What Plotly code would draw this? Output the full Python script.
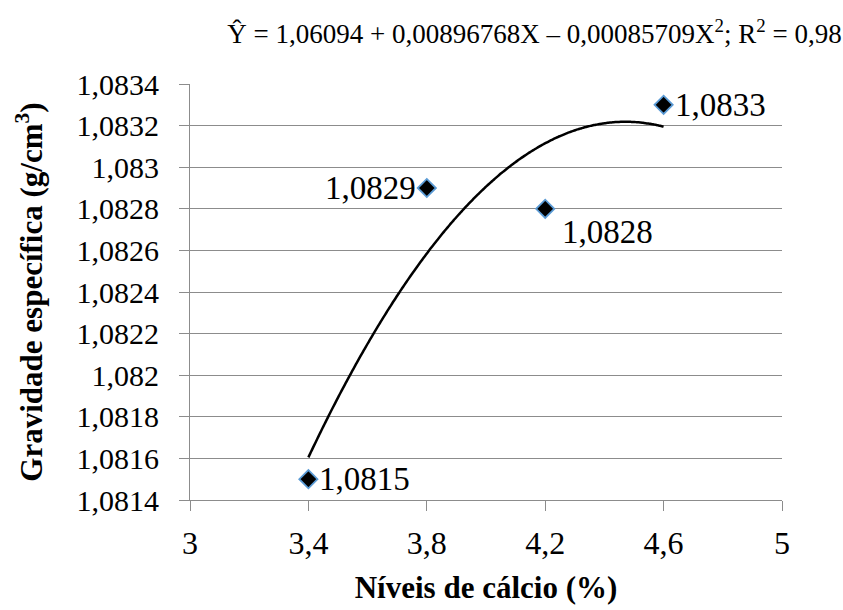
import numpy as np
import plotly.graph_objects as go

# Calcium levels (%) and specific gravity (g/cm3)
calcio = [3.4, 3.8, 4.2, 4.6]
gravidade = [1.0815, 1.0829, 1.0828, 1.0833]

y_ticks = [1.0814, 1.0816, 1.0818, 1.082, 1.0822, 1.0824, 1.0826, 1.0828, 1.083, 1.0832, 1.0834]
y_ticktext = ["1,0814", "1,0816", "1,0818", "1,082", "1,0822", "1,0824", "1,0826", "1,0828", "1,083", "1,0832", "1,0834"]
x_ticks = [3, 3.4, 3.8, 4.2, 4.6, 5]
x_ticktext = ["3", "3,4", "3,8", "4,2", "4,6", "5"]

# Quadratic trendline fitted to the observed points
coef = np.polyfit(calcio, gravidade, 2)
xs = np.linspace(min(calcio), max(calcio), 200)
ys = np.polyval(coef, xs)

font = "Liberation Serif"
axis_grey = "#8c8c8c"

fig = go.Figure()
fig.add_trace(go.Scatter(x=xs, y=ys, mode="lines",
                         line=dict(color="black", width=2.5, shape="spline"),
                         hoverinfo="skip", showlegend=False))
fig.add_trace(go.Scatter(x=calcio, y=gravidade, mode="markers",
                         marker=dict(symbol="diamond", size=14, color="black",
                                     line=dict(color="#5b9bd5", width=1.8)),
                         showlegend=False))

# Data labels beside each point
offsets = [(9, 0, "left"), (-9, 0, "right"), (15, 23, "left"), (9, 0, "left")]
for x, y, (dx, dy, anc) in zip(calcio, gravidade, offsets):
    fig.add_annotation(x=x, y=y, text=f"{y:.4f}".replace(".", ","), showarrow=False,
                       xanchor=anc, yanchor="middle", xshift=dx, yshift=-dy,
                       font=dict(family=font, size=33, color="black"))

fig.update_layout(
    width=843, height=610,
    margin=dict(l=190, r=61, t=84, b=106),
    paper_bgcolor="white", plot_bgcolor="white",
    font=dict(family=font, color="black"),
    title=dict(text="Ŷ = 1,06094 + 0,00896768X – 0,00085709X<sup>2</sup>; R<sup>2</sup> = 0,98",
               x=0.634, xanchor="center", y=0.96, yanchor="top",
               font=dict(family=font, size=27, color="black")),
    xaxis=dict(range=[3, 5], tickvals=x_ticks, ticktext=x_ticktext,
               showgrid=False, zeroline=False, showline=True, linecolor=axis_grey, linewidth=1.2,
               ticks="outside", ticklen=10, tickcolor=axis_grey, tickwidth=1.2,
               ticklabelstandoff=4,
               tickfont=dict(family=font, size=32, color="black"),
               title=dict(text="<b>Níveis de cálcio (%)</b>", standoff=16,
                          font=dict(family=font, size=31, color="black"))),
    yaxis=dict(range=[1.0814, 1.0834], tickvals=y_ticks, ticktext=y_ticktext,
               showgrid=True, gridcolor=axis_grey, gridwidth=1.2, zeroline=False,
               showline=True, linecolor=axis_grey, linewidth=1.2,
               ticks="outside", ticklen=10, tickcolor=axis_grey, tickwidth=1.2,
               ticklabelstandoff=14,
               tickfont=dict(family=font, size=30, color="black"),
               title=dict(text="<b>Gravidade específica (g/cm<sup>3</sup>)</b>", standoff=24,
                          font=dict(family=font, size=31, color="black"))),
)

fig.write_html("out.html")
